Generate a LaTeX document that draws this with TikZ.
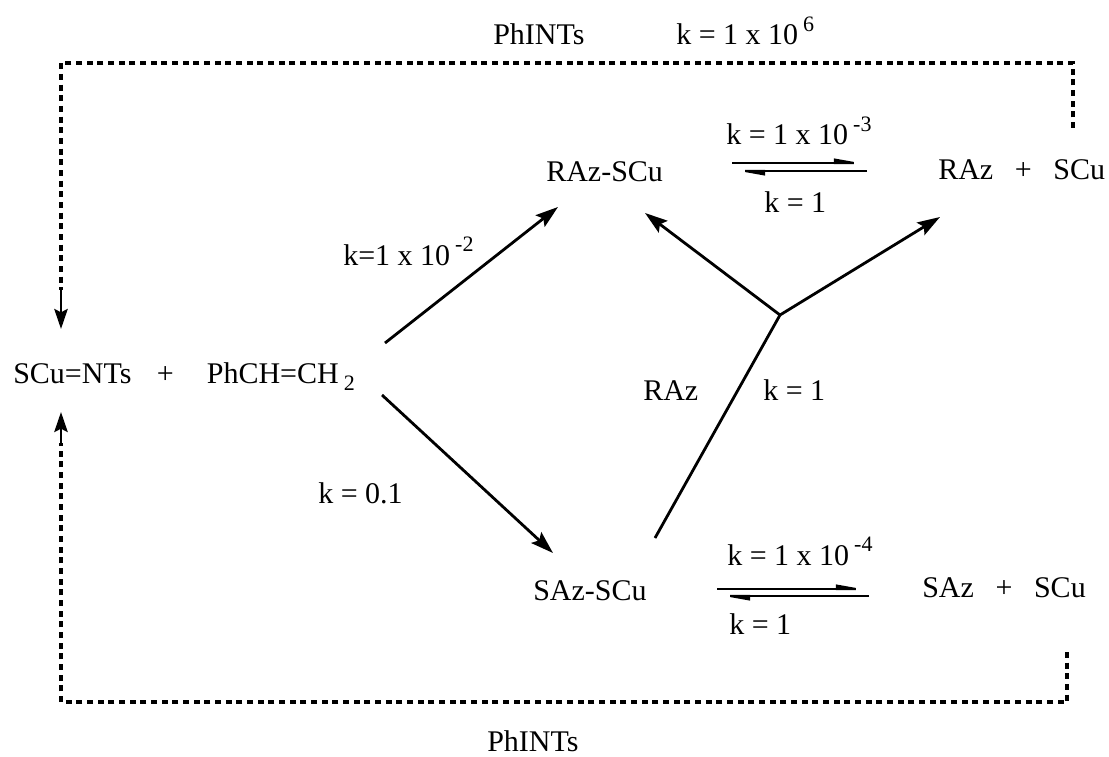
\documentclass[tikz,border=0pt]{standalone}
\usepackage{fontspec}
\setmainfont{Liberation Serif}
\usetikzlibrary{arrows.meta}
\newcommand\kexp[1]{\raisebox{0.45em}{\fontsize{16.5}{18}\selectfont #1}}
\newcommand\hsp{\hspace{0.72em}}
\begin{document}
\begin{tikzpicture}[x=0.75pt,y=-0.75pt,
  lbl/.style={anchor=base west, inner sep=0pt, font=\fontsize{22.5}{24}\selectfont},
  solidarrow/.style={line width=2.1pt, -{Stealth[length=17pt,width=11pt,inset=3pt]}},
  smallarrow/.style={line width=2.1pt, -{Stealth[length=15pt,width=10pt,inset=2.5pt]}},
  plainline/.style={line width=2.1pt},
  dashline/.style={line width=2.6pt, dash pattern=on 4.5pt off 3.5pt},
  harp/.style={line width=1.6pt, -{Triangle[harpoon,length=20pt,width=6.5pt]}}]
\useasboundingbox (0,0) rectangle (1109,756);
% labels
\node[lbl] (phtop) at (493,45) {PhINTs};
\node[lbl] (ktop) at (676,45) {k = 1 x 10\,\kexp{6}};
\node[lbl] (raz) at (546,181) {RAz-SCu};
\node[lbl] (k3) at (726,145) {k = 1 x 10\,\kexp{-3}};
\node[lbl] (k1a) at (764,212) {k = 1};
\node[lbl] (razp) at (938,180) {RAz\hsp+\hsp SCu};
\node[lbl] (k2) at (343,265) {k=1 x 10\,\kexp{-2}};
\node[lbl] (react) at (13,383) {SCu=NTs\hspace{0.85em}+\hspace{1.1em}PhCH=CH\,\raisebox{-5.25pt}{\fontsize{16.5}{18}\selectfont 2}};
\node[lbl] (razl) at (643,400) {RAz};
\node[lbl] (k1b) at (763,400) {k = 1};
\node[lbl] (k01) at (318,503) {k = 0.1};
\node[lbl] (saz) at (533,600) {SAz-SCu};
\node[lbl] (k4) at (727,565) {k = 1 x 10\,\kexp{-4}};
\node[lbl] (sazp) at (922,597) {SAz\hsp+\hsp SCu};
\node[lbl] (k1c) at (729,634) {k = 1};
\node[lbl] (phbot) at (487,751) {PhINTs};
% coordinates
\coordinate (a1s) at (385,343); \coordinate (a1e) at (558,207);
\coordinate (a2s) at (382,395); \coordinate (a2e) at (553,553);
\coordinate (jn) at (780,315); \coordinate (y1) at (645,213);
\coordinate (y2) at (940,217); \coordinate (stem) at (655,538);
\coordinate (tl) at (61,63); \coordinate (tr) at (1073,63); \coordinate (trd) at (1073,128);
\coordinate (la) at (61,290); \coordinate (lat) at (61,329);
\coordinate (bl) at (61,702); \coordinate (br) at (1067,702); \coordinate (bru) at (1067,652);
\coordinate (lb) at (61,443); \coordinate (lbt) at (61,412);
\coordinate (e1a) at (732,163); \coordinate (e1b) at (867,163);
\coordinate (e2a) at (867,171); \coordinate (e2b) at (732,171);
\coordinate (e3a) at (717,589); \coordinate (e3b) at (869,589);
\coordinate (e4a) at (869,596); \coordinate (e4b) at (717,596);
% connectors
\draw[dashline] (trd) -- (tr) -- (tl) -- (la);
\draw[smallarrow] (la) -- (lat);
\draw[dashline] (bru) -- (br) -- (bl) -- (lb);
\draw[smallarrow] (lb) -- (lbt);
\draw[solidarrow] (a1s) -- (a1e);
\draw[solidarrow] (a2s) -- (a2e);
\draw[plainline] (stem) -- (jn);
\draw[solidarrow] (jn) -- (y1);
\draw[solidarrow] (jn) -- (y2);
\draw[harp] (e1a) -- (e1b);
\draw[harp] (e2a) -- (e2b);
\draw[harp] (e3a) -- (e3b);
\draw[harp] (e4a) -- (e4b);
\end{tikzpicture}
\end{document}
